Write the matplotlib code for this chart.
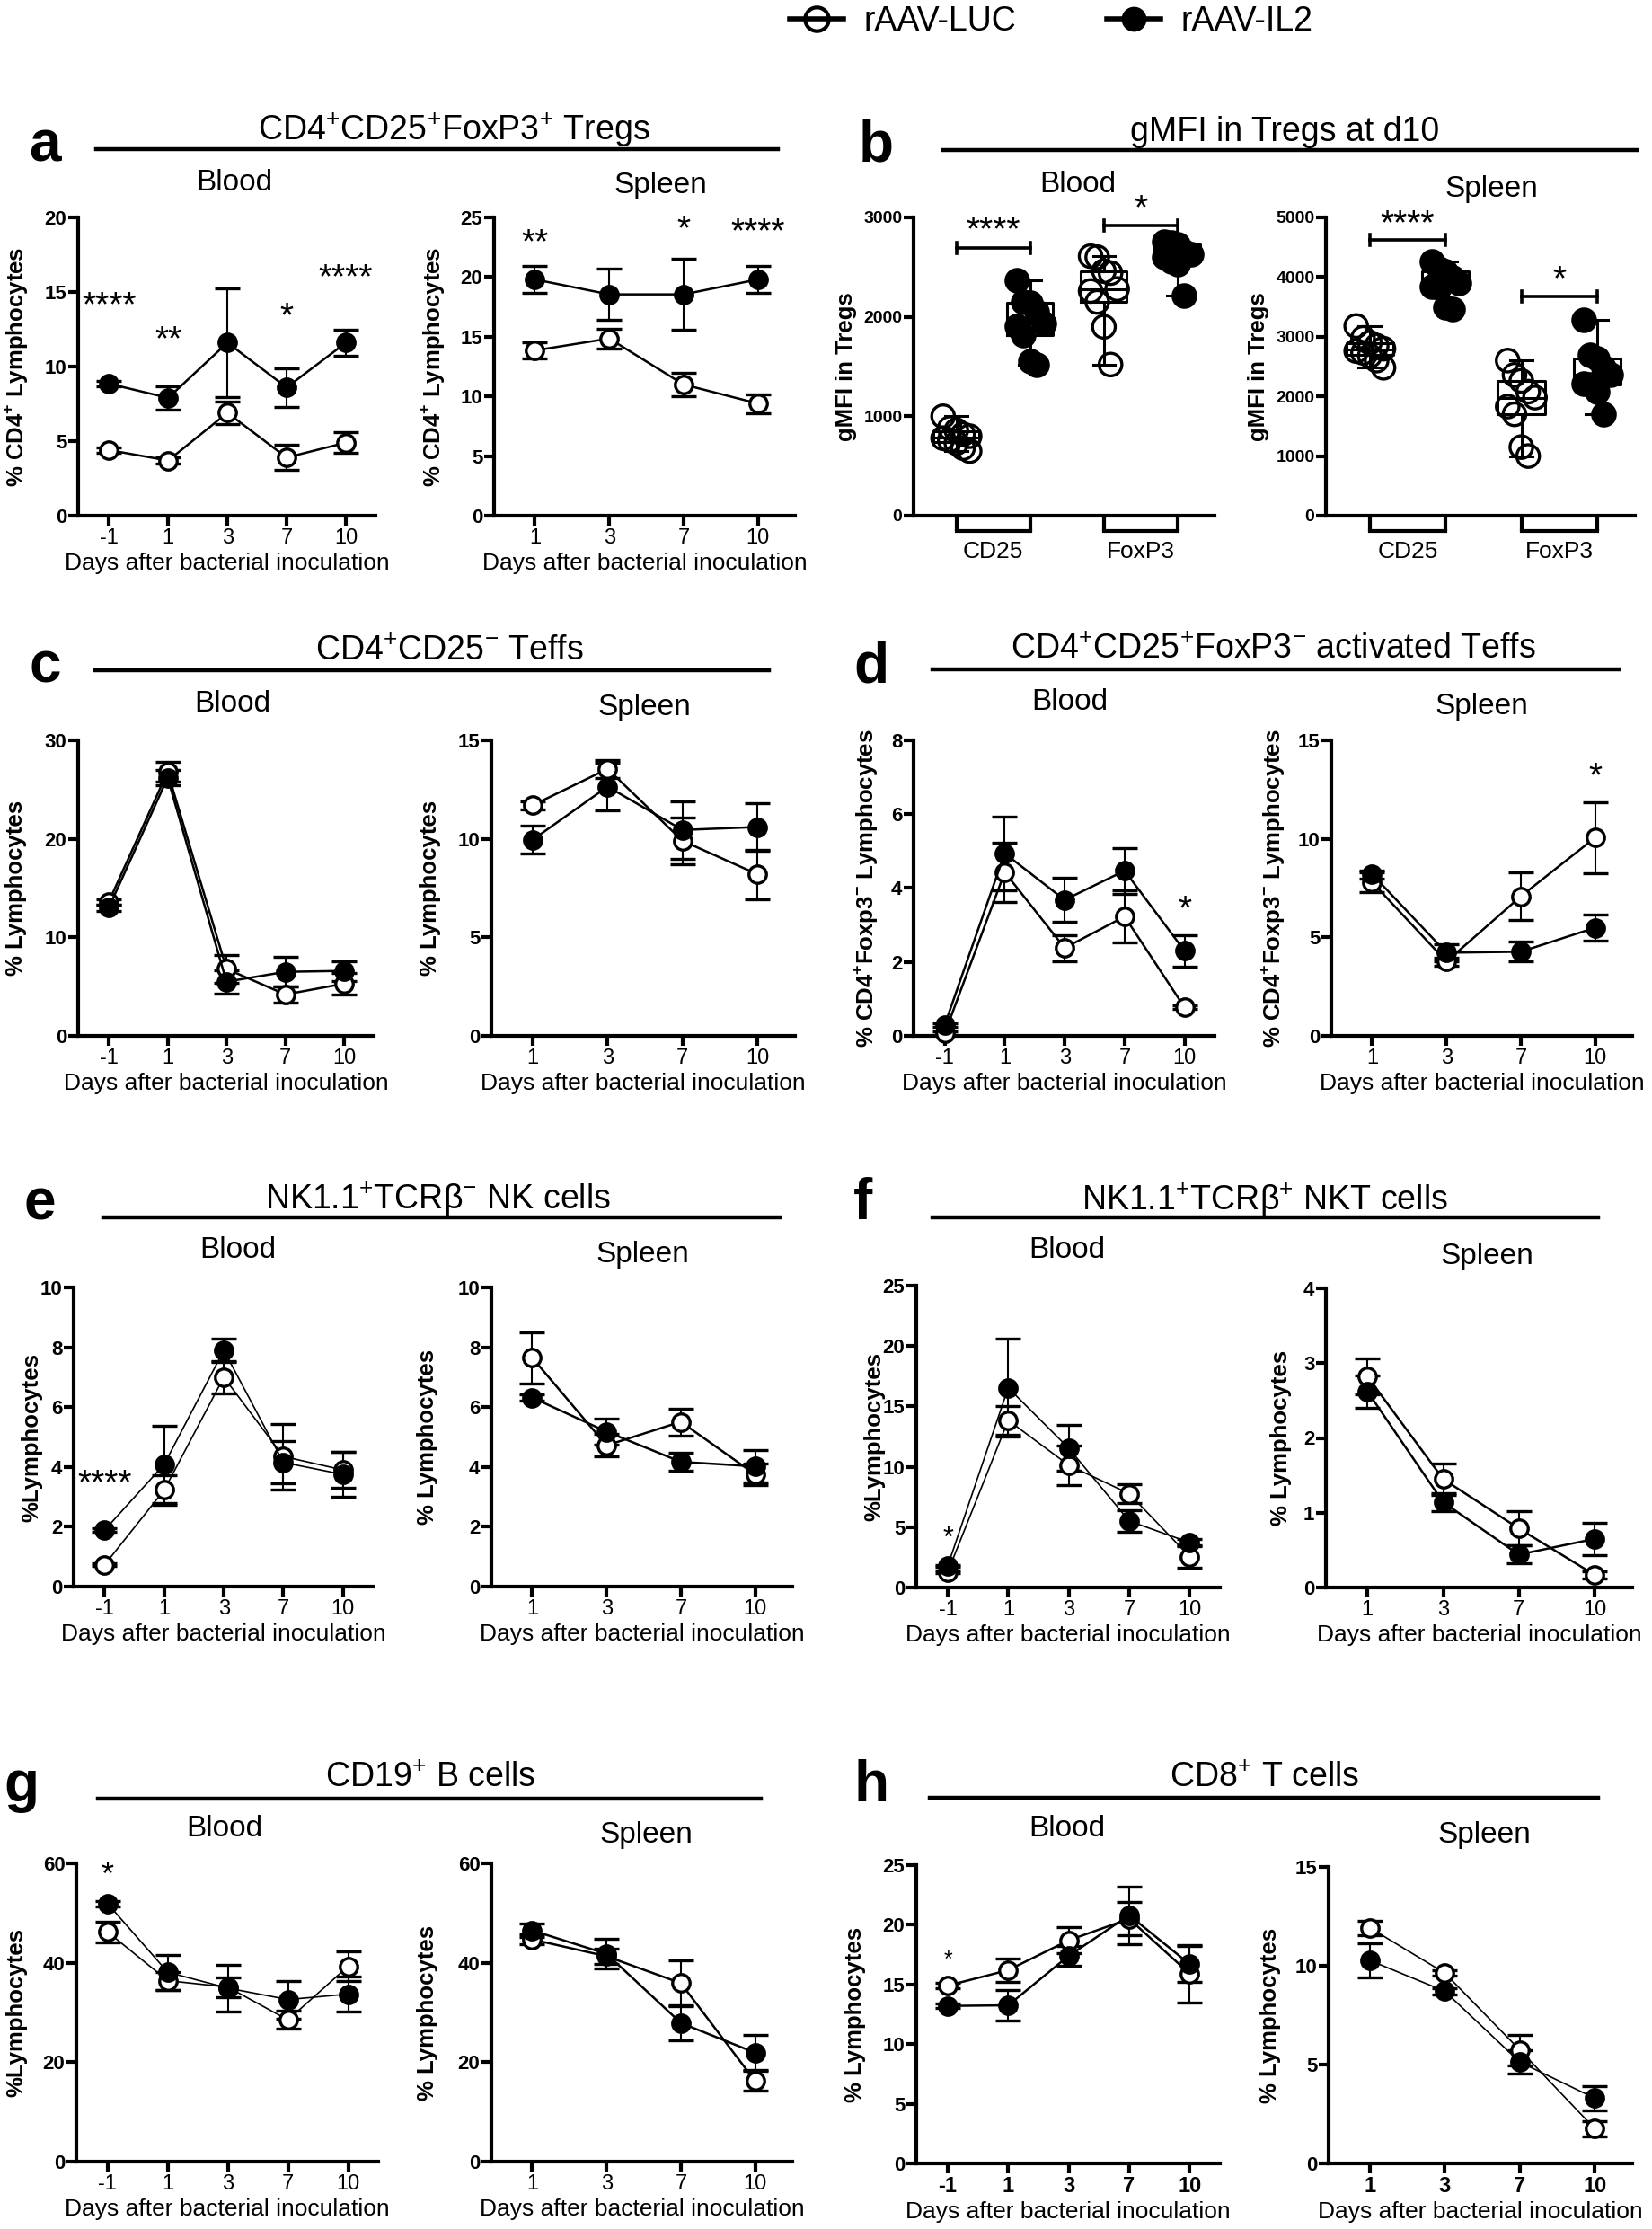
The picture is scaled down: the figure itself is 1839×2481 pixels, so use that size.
import numpy as np
import matplotlib.pyplot as plt
from matplotlib import font_manager
from matplotlib.lines import Line2D
from matplotlib.transforms import blended_transform_factory

installed = {f.name for f in font_manager.fontManager.ttflist}
NARROW = 'Liberation Sans Narrow' if 'Liberation Sans Narrow' in installed else 'Liberation Sans'

plt.rcParams['font.family'] = ['Liberation Sans', 'DejaVu Sans']
plt.rcParams['mathtext.fontset'] = 'custom'
plt.rcParams['mathtext.rm'] = NARROW
plt.rcParams['mathtext.bf'] = 'Liberation Sans:bold'

# --- data (mean and SEM per day) ---
days_blood = ['-1', '1', '3', '7', '10']
days_spleen = ['1', '3', '7', '10']
groups = ['rAAV-LUC', 'rAAV-IL2']

# a: CD4+CD25+FoxP3+ Tregs
a_blood_luc = [4.4, 3.7, 6.9, 3.9, 4.9]
a_blood_luc_sem = [0.2, 0.2, 0.75, 0.85, 0.7]
a_blood_il2 = [8.85, 7.9, 11.6, 8.6, 11.6]
a_blood_il2_sem = [0.2, 0.8, 3.65, 1.3, 0.9]
a_spleen_luc = [13.85, 14.85, 11.0, 9.4]
a_spleen_luc_sem = [0.7, 0.85, 1.0, 0.8]
a_spleen_il2 = [19.8, 18.55, 18.55, 19.8]
a_spleen_il2_sem = [1.15, 2.15, 2.95, 1.15]
a_blood_stars = ['****', '**', '', '*', '****']
a_blood_star_y = [14.0, 11.7, 0, 13.3, 15.9]
a_spleen_stars = ['**', '', '*', '****']
a_spleen_star_y = [22.8, 0, 23.9, 23.7]

# b: gMFI in Tregs at d10 (individual mice)
b_blood_cd25_luc = [1000, 880, 860, 820, 800, 780, 760, 730, 680, 650]
b_blood_cd25_il2 = [2370, 2150, 2140, 2050, 1930, 1910, 1820, 1550, 1520]
b_blood_foxp3_luc = [2610, 2600, 2460, 2440, 2280, 2260, 2150, 1900, 1520]
b_blood_foxp3_il2 = [2760, 2750, 2730, 2660, 2630, 2600, 2560, 2530, 2210]
b_spleen_cd25_luc = [3180, 2980, 2900, 2850, 2800, 2760, 2730, 2680, 2600, 2480]
b_spleen_cd25_il2 = [4260, 4140, 4100, 3990, 3900, 3840, 3820, 3490, 3470]
b_spleen_foxp3_luc = [2600, 2360, 2260, 2080, 1980, 1830, 1700, 1150, 1000]
b_spleen_foxp3_il2 = [3280, 2690, 2630, 2480, 2360, 2210, 2200, 2080, 1700]

# c: CD4+CD25- Teffs
c_blood_luc = [13.6, 26.8, 6.8, 4.2, 5.3]
c_blood_luc_sem = [0.3, 1.0, 1.4, 0.8, 1.1]
c_blood_il2 = [13.0, 26.2, 5.5, 6.5, 6.6]
c_blood_il2_sem = [0.3, 0.8, 1.2, 1.5, 1.0]
c_spleen_luc = [11.7, 13.55, 9.9, 8.2]
c_spleen_luc_sem = [0.2, 0.45, 1.2, 1.25]
c_spleen_il2 = [9.95, 12.65, 10.45, 10.6]
c_spleen_il2_sem = [0.7, 1.2, 1.45, 1.2]

# d: CD4+CD25+FoxP3- activated Teffs
d_blood_luc = [0.07, 4.43, 2.38, 3.23, 0.77]
d_blood_luc_sem = [0.05, 0.8, 0.35, 0.71, 0.05]
d_blood_il2 = [0.30, 4.94, 3.68, 4.47, 2.30]
d_blood_il2_sem = [0.05, 1.0, 0.6, 0.62, 0.42]
d_spleen_luc = [7.8, 3.77, 7.08, 10.06]
d_spleen_luc_sem = [0.5, 0.2, 1.2, 1.8]
d_spleen_il2 = [8.2, 4.22, 4.27, 5.49]
d_spleen_il2_sem = [0.2, 0.45, 0.5, 0.65]
d_blood_stars = ['', '', '', '', '*']
d_blood_star_y = [0, 0, 0, 0, 3.4]
d_spleen_stars = ['', '', '', '*']
d_spleen_star_y = [0, 0, 0, 13.1]

# e: NK1.1+TCRb- NK cells
e_blood_luc = [0.73, 3.23, 7.0, 4.35, 3.9]
e_blood_luc_sem = [0.05, 0.5, 0.55, 1.1, 0.6]
e_blood_il2 = [1.89, 4.09, 7.9, 4.15, 3.75]
e_blood_il2_sem = [0.05, 1.3, 0.4, 0.7, 0.75]
e_spleen_luc = [7.65, 4.72, 5.51, 3.75]
e_spleen_luc_sem = [0.85, 0.38, 0.45, 0.35]
e_spleen_il2 = [6.32, 5.18, 4.17, 4.02]
e_spleen_il2_sem = [0.1, 0.45, 0.3, 0.55]
e_blood_stars = ['****', '', '', '', '']
e_blood_star_y = [3.4, 0, 0, 0, 0]

# f: NK1.1+TCRb+ NKT cells
f_blood_luc = [1.28, 13.85, 10.13, 7.77, 2.56]
f_blood_luc_sem = [0.1, 1.2, 1.65, 0.77, 0.9]
f_blood_il2 = [1.79, 16.54, 11.54, 5.51, 3.72]
f_blood_il2_sem = [0.1, 4.05, 1.9, 0.9, 0.3]
f_spleen_luc = [2.82, 1.45, 0.79, 0.17]
f_spleen_luc_sem = [0.24, 0.21, 0.23, 0.05]
f_spleen_il2 = [2.62, 1.14, 0.44, 0.65]
f_spleen_il2_sem = [0.22, 0.12, 0.12, 0.22]
f_blood_stars = ['*', '', '', '', '']
f_blood_star_y = [4.0, 0, 0, 0, 0]

# g: CD19+ B cells
g_blood_luc = [46.2, 36.4, 35.1, 28.5, 39.3]
g_blood_luc_sem = [2.1, 1.8, 2.0, 1.8, 3.0]
g_blood_il2 = [51.9, 38.1, 34.9, 32.6, 33.7]
g_blood_il2_sem = [0.5, 3.5, 4.7, 3.8, 3.5]
g_spleen_luc = [44.7, 41.3, 35.9, 16.2]
g_spleen_luc_sem = [1.0, 1.5, 4.6, 2.0]
g_spleen_il2 = [46.5, 41.8, 27.9, 21.9]
g_spleen_il2_sem = [1.4, 3.0, 3.5, 3.5]
g_blood_stars = ['*', '', '', '', '']
g_blood_star_y = [57.4, 0, 0, 0, 0]

# h: CD8+ T cells
h_blood_luc = [14.9, 16.2, 18.7, 20.5, 15.9]
h_blood_luc_sem = [0.2, 1.0, 1.1, 1.4, 2.4]
h_blood_il2 = [13.2, 13.25, 17.4, 20.8, 16.7]
h_blood_il2_sem = [0.2, 1.3, 0.8, 2.4, 1.5]
h_spleen_luc = [11.92, 9.63, 5.74, 1.76]
h_spleen_luc_sem = [0.37, 0.15, 0.77, 0.38]
h_spleen_il2 = [10.27, 8.71, 5.13, 3.3]
h_spleen_il2_sem = [0.85, 0.15, 0.6, 0.63]
h_blood_stars = ['*', '', '', '', '']
h_blood_star_y = [17.0, 0, 0, 0, 0]

# --- layout helpers (pixel coordinates, y measured from the top) ---
W, H = 1840, 2481
fig = plt.figure(figsize=(W / 100, H / 100), dpi=100)


def add_ax(x0, x1, top, bottom):
    return fig.add_axes([x0 / W, 1 - bottom / H, (x1 - x0) / W, (bottom - top) / H])


def ftext(x, y, s, **kw):
    fig.text(x / W, 1 - y / H, s, **kw)


def header(letter, lx, ly, title, tx, ty, ux0, ux1, uy, bx, by, sx, sy):
    ftext(lx, ly, letter, size=46, weight='bold', ha='center', va='center')
    ftext(tx, ty, title, size=27, family=NARROW, ha='center', va='center')
    fig.add_artist(Line2D([ux0 / W, ux1 / W], [1 - uy / H] * 2, color='black', lw=3.2,
                          transform=fig.transFigure))
    ftext(bx, by, 'Blood', size=24, family=NARROW, ha='center', va='center')
    ftext(sx, sy, 'Spleen', size=24, family=NARROW, ha='center', va='center')


def axis_style(ax, ymax, ystep, ysize=16):
    ax.set_ylim(0, ymax)
    ax.set_yticks(np.arange(0, ymax + ystep / 2, ystep))
    for s in ('top', 'right'):
        ax.spines[s].set_visible(False)
    for s in ('left', 'bottom'):
        ax.spines[s].set_linewidth(3)
    ax.tick_params(axis='y', length=8, width=3, labelsize=ysize, pad=1)
    ax.tick_params(axis='x', length=8, width=3, labelsize=17, pad=2)
    for t in ax.get_yticklabels():
        t.set_family(NARROW)
        t.set_fontweight('bold')
    for t in ax.get_xticklabels():
        t.set_family(NARROW)


def ylabel(ax_box, x, text, size=18.5):
    ftext(x, (ax_box[2] + ax_box[3]) / 2, text, rotation=90, size=size, weight='bold',
          ha='center', va='center')


def line_panel(box, labels, luc, luc_sem, il2, il2_sem, ymax, ystep, ylab, ylab_x,
               lw=1.8, stars=None, star_y=None, star_size=28, bold_x=False):
    ax = add_ax(*box)
    x = np.arange(len(labels))
    for y, e, face in ((luc, luc_sem, 'white'), (il2, il2_sem, 'black')):
        ax.errorbar(x, y, yerr=e, color='black', lw=lw, marker='o', ms=14, mfc=face,
                    mec='black', mew=2.4, ecolor='black', elinewidth=1.5, capsize=10,
                    capthick=1.5, zorder=3, clip_on=False)
    ax.set_xticks(x, labels)
    ax.set_xlim(-0.52 if len(labels) == 5 else -0.55, len(labels) - 0.5)
    axis_style(ax, ymax, ystep)
    if bold_x:
        for t in ax.get_xticklabels():
            t.set_fontweight('bold')
    ax.set_xlabel('Days after bacterial inoculation', family=NARROW, size=19, labelpad=4)
    if stars:
        for i, (s, sy) in enumerate(zip(stars, star_y)):
            if s:
                ax.text(i, sy, s, ha='center', va='center', size=star_size, clip_on=False)
    ylabel(box, ylab_x, ylab)
    return ax


def box_panel(box, data, ymax, ylab_x, brackets):
    ax = add_ax(*box)
    pos = np.arange(len(data))
    lineprops = dict(color='black', lw=2.2)
    ax.boxplot(data, positions=pos, widths=0.62, whis=(0, 100), showfliers=False,
               capwidths=0.3, boxprops=lineprops, whiskerprops=lineprops,
               capprops=lineprops, medianprops=lineprops)
    for i, vals in enumerate(data):
        off = ((np.arange(len(vals)) % 5) - 2) * 0.09
        ax.scatter(pos[i] + off, vals, s=330, facecolors='none' if i % 2 == 0 else 'black',
                   edgecolors='black', linewidths=2.4, zorder=3, clip_on=False)
    ax.set_xlim(-0.58, 3.5)
    axis_style(ax, ymax, 1000, ysize=14)
    ax.set_xticks(pos, [''] * len(pos))
    ax.tick_params(axis='x', length=12)
    trans = blended_transform_factory(ax.transData, ax.transAxes)
    for a, b, name in ((0, 1, 'CD25'), (2, 3, 'FoxP3')):
        ax.plot([a, b], [-0.052, -0.052], transform=trans, color='black', lw=3,
                clip_on=False, solid_capstyle='projecting')
        ax.text((a + b) / 2, -0.12, name, transform=trans, ha='center', va='center',
                size=19, family=NARROW)
    for a, b, y, s, ty in brackets:
        d = ymax * 0.018
        ax.plot([a, b], [y, y], color='black', lw=2.6, clip_on=False)
        ax.plot([a, a], [y - d, y + d], color='black', lw=2.6, clip_on=False)
        ax.plot([b, b], [y - d, y + d], color='black', lw=2.6, clip_on=False)
        ax.text((a + b) / 2, ty, s, ha='center', va='center', size=28, clip_on=False)
    ylabel(box, ylab_x, 'gMFI in Tregs')
    return ax


CD4_LAB = r'% CD4$^{\mathbf{+}}$ Lymphocytes'
FOX_LAB = r'% CD4$^{\mathbf{+}}$Foxp3$^{\mathbf{-}}$ Lymphocytes'

# ----- row 1: a, b -----
header('a', 50, 162, r'CD4$^{+}$CD25$^{+}$FoxP3$^{+}$ Tregs', 505, 145, 107, 866, 166,
       261, 203, 735, 207)
header('b', 975, 162, 'gMFI in Tregs at d10', 1430, 147, 1050, 1822, 167,
       1200, 205, 1660, 210)
line_panel((87, 418, 242, 574), days_blood, a_blood_luc, a_blood_luc_sem, a_blood_il2,
           a_blood_il2_sem, 20, 5, CD4_LAB, 18, stars=a_blood_stars, star_y=a_blood_star_y)
line_panel((550, 885, 242, 574), days_spleen, a_spleen_luc, a_spleen_luc_sem, a_spleen_il2,
           a_spleen_il2_sem, 25, 5, CD4_LAB, 482, stars=a_spleen_stars,
           star_y=a_spleen_star_y)
box_panel((1017, 1352, 242, 574),
          [b_blood_cd25_luc, b_blood_cd25_il2, b_blood_foxp3_luc, b_blood_foxp3_il2],
          3000, 942, [(0, 1, 2690, '****', 2860), (2, 3, 2920, '*', 3080)])
box_panel((1476, 1820, 242, 574),
          [b_spleen_cd25_luc, b_spleen_cd25_il2, b_spleen_foxp3_luc, b_spleen_foxp3_il2],
          5000, 1401, [(0, 1, 4617, '****', 4880), (2, 3, 3673, '*', 3940)])

# ----- row 2: c, d -----
header('c', 50, 743, r'CD4$^{+}$CD25$^{-}$ Teffs', 500, 725, 106, 856, 746,
       259, 783, 717, 788)
header('d', 970, 743, r'CD4$^{+}$CD25$^{+}$FoxP3$^{-}$ activated Teffs', 1417, 723,
       1038, 1802, 745, 1191, 781, 1649, 786)
line_panel((87, 416, 824, 1153), days_blood, c_blood_luc, c_blood_luc_sem, c_blood_il2,
           c_blood_il2_sem, 30, 10, '% Lymphocytes', 18)
line_panel((547, 885, 824, 1153), days_spleen, c_spleen_luc, c_spleen_luc_sem, c_spleen_il2,
           c_spleen_il2_sem, 15, 5, '% Lymphocytes', 479)
line_panel((1017, 1352, 824, 1153), days_blood, d_blood_luc, d_blood_luc_sem, d_blood_il2,
           d_blood_il2_sem, 8, 2, FOX_LAB, 964, stars=d_blood_stars, star_y=d_blood_star_y)
line_panel((1482, 1817, 824, 1153), days_spleen, d_spleen_luc, d_spleen_luc_sem, d_spleen_il2,
           d_spleen_il2_sem, 15, 5, FOX_LAB, 1417, stars=d_spleen_stars,
           star_y=d_spleen_star_y)

# ----- row 3: e, f -----
header('e', 44, 1340, r'NK1.1$^{+}$TCRβ$^{-}$ NK cells', 488, 1335, 115, 868, 1355,
       265, 1391, 715, 1397)
header('f', 961, 1340, r'NK1.1$^{+}$TCRβ$^{+}$ NKT cells', 1408, 1336, 1038, 1779, 1355,
       1188, 1391, 1655, 1398)
line_panel((82, 415, 1433, 1766), days_blood, e_blood_luc, e_blood_luc_sem, e_blood_il2,
           e_blood_il2_sem, 10, 2, '%Lymphocytes', 35, lw=1.2, stars=e_blood_stars,
           star_y=e_blood_star_y)
line_panel((547, 882, 1433, 1766), days_spleen, e_spleen_luc, e_spleen_luc_sem, e_spleen_il2,
           e_spleen_il2_sem, 10, 2, '% Lymphocytes', 476, lw=1.8)
line_panel((1020, 1358, 1431, 1767), days_blood, f_blood_luc, f_blood_luc_sem, f_blood_il2,
           f_blood_il2_sem, 25, 5, '%Lymphocytes', 973, lw=1.2, stars=f_blood_stars,
           star_y=f_blood_star_y, star_size=22)
line_panel((1476, 1817, 1434, 1767), days_spleen, f_spleen_luc, f_spleen_luc_sem, f_spleen_il2,
           f_spleen_il2_sem, 4, 1, '% Lymphocytes', 1426, lw=1.8)

# ----- row 4: g, h -----
header('g', 24, 1988, r'CD19$^{+}$ B cells', 479, 1979, 109, 847, 2002,
       250, 2036, 719, 2042)
header('h', 970, 1988, r'CD8$^{+}$ T cells', 1408, 1979, 1035, 1779, 2001,
       1188, 2036, 1652, 2042)
line_panel((85, 421, 2074, 2406), days_blood, g_blood_luc, g_blood_luc_sem, g_blood_il2,
           g_blood_il2_sem, 60, 20, '%Lymphocytes', 18, lw=1.2, stars=g_blood_stars,
           star_y=g_blood_star_y, star_size=26)
line_panel((547, 882, 2074, 2406), days_spleen, g_spleen_luc, g_spleen_luc_sem, g_spleen_il2,
           g_spleen_il2_sem, 60, 20, '% Lymphocytes', 476, lw=1.8)
line_panel((1020, 1358, 2076, 2408), days_blood, h_blood_luc, h_blood_luc_sem, h_blood_il2,
           h_blood_il2_sem, 25, 5, '% Lymphocytes', 952, lw=1.8, stars=h_blood_stars,
           star_y=h_blood_star_y, star_size=18, bold_x=True)
line_panel((1479, 1817, 2078, 2408), days_spleen, h_spleen_luc, h_spleen_luc_sem, h_spleen_il2,
           h_spleen_il2_sem, 15, 5, '% Lymphocytes', 1414, lw=1.2, bold_x=True)

# ----- legend -----
h_luc = Line2D([], [], color='black', lw=4, marker='o', ms=19, mfc='none', mec='black', mew=3)
h_il2 = Line2D([], [], color='black', lw=4, marker='o', ms=19, mfc='black', mec='black')
fig.legend([h_luc, h_il2], groups, loc='center', bbox_to_anchor=(1170 / W, 1 - 24 / H),
           ncol=2, frameon=False, prop={'family': NARROW, 'size': 27}, handlelength=1.6,
           handletextpad=0.6, columnspacing=2.7)

fig.savefig('out.png', dpi=100)
